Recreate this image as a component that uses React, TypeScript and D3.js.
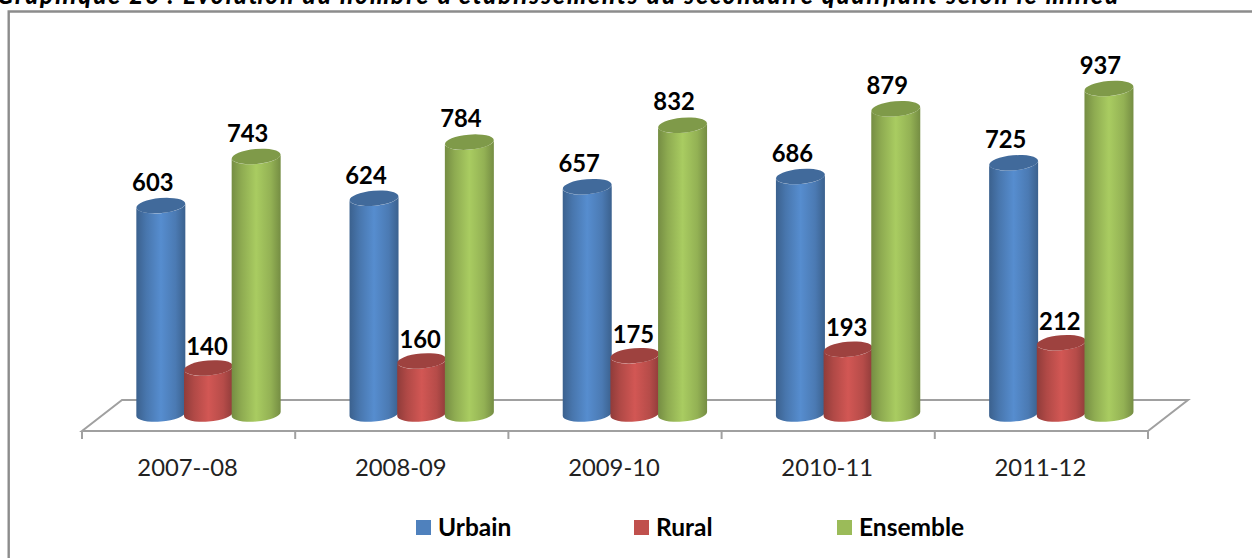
import React from "react";
import * as d3 from "d3";

const categories = ["2007--08", "2008-09", "2009-10", "2010-11", "2011-12"];
const urbain = [603, 624, 657, 686, 725];
const rural = [140, 160, 175, 193, 212];
const ensemble = [743, 784, 832, 879, 937];
const seriesNames = ["Urbain", "Rural", "Ensemble"];
const seriesValues = [urbain, rural, ensemble];
const colors = ["#4F81BD", "#C0504D", "#9BBB59"];
const labelShift = [-8, -1.5, -8.5];
const labelLift = [14.5, 13, 15];
const legendX = [416, 634, 837];
const titleText = "Graphique 26 : Evolution du nombre d'établissements du secondaire qualifiant selon le milieu";

const W = 1252, H = 558;
const x0 = d3.scaleBand<string>().domain(categories).range([82, 1148]);
const x1 = d3.scaleBand<string>().domain(seriesNames).range([55, 55 + 143]);
const y = d3.scaleLinear().domain([0, 937]).range([417, 88.5]);
const font = "Lato, 'Noto Sans', sans-serif";
const rx = 24.5, ry = 7.5, tilt = -5;
const baseY = 414;

function shade(c: string, k: number) {
  return d3.color(c)!.darker(k).formatHex();
}

function cylPath(cx: number, top: number, base: number) {
  return `M${cx - rx},${top + 2} L${cx - rx},${base + 2} A${rx},${ry} ${tilt} 0 0 ${cx + rx},${base - 2} L${cx + rx},${top - 2} A${rx},${ry} ${tilt} 0 1 ${cx - rx},${top + 2} Z`;
}

export default function App() {
  const ticks = d3.range(categories.length + 1).map((i) => 82 + i * x0.step());
  return (
    <svg width={W} height={H} style={{ position: "absolute", left: 0, top: 0, background: "#fff" }}>
      <defs>
        {colors.map((c, i) => (
          <linearGradient key={c} id={`g${i}`} x1="0" x2="1" y1="0" y2="0">
            <stop offset="0" stopColor={shade(c, 0.8)} />
            <stop offset="0.2" stopColor={shade(c, 0.25)} />
            <stop offset="0.5" stopColor={d3.color(c)!.brighter(0.25).formatHex()} />
            <stop offset="0.8" stopColor={shade(c, 0.15)} />
            <stop offset="1" stopColor={shade(c, 0.8)} />
          </linearGradient>
        ))}
      </defs>
      <text x={-3} y={4} textLength={1121} lengthAdjust="spacing" fontFamily="Lato, sans-serif" fontWeight={900} fontStyle="italic" fontSize={24} fill="#000">{titleText}</text>
      <path d={`M8.7,${H} V11.5 H${W}`} fill="none" stroke="#8c8c8c" strokeWidth={2.4} />
      <path d="M82,431 L122,400 H1188 L1148,431 Z" fill="#fff" stroke="#a0a0a0" strokeWidth={2} />
      {ticks.map((t) => <line key={t} x1={t} x2={t} y1={431} y2={439} stroke="#a0a0a0" strokeWidth={2} />)}
      {categories.map((cat, ci) => (
        <g key={cat}>
          <text x={x0(cat)! + x0.step() / 2 - 1} y={476} textAnchor="middle" fontFamily={font} fontSize={23.8} fill="#222">{cat}</text>
          {seriesNames.map((name, si) => {
            const v = seriesValues[si][ci];
            const cx = x0(cat)! + x1(name)! + x1.bandwidth() / 2;
            const top = y(v);
            return (
              <g key={name}>
                <path d={cylPath(cx, top, baseY)} fill={`url(#g${si})`} />
                <ellipse cx={cx} cy={top} rx={rx} ry={ry} transform={`rotate(${tilt} ${cx} ${top})`} fill={shade(colors[si], 0.55)} />
                <text x={cx + labelShift[si]} y={top - labelLift[si]} textAnchor="middle" fontFamily={font} fontWeight={700} fontSize={23.8} fill="#000">{v}</text>
              </g>
            );
          })}
        </g>
      ))}
      {seriesNames.map((name, i) => (
        <g key={name}>
          <rect x={legendX[i]} y={520} width={15} height={15} fill={colors[i]} />
          <text x={legendX[i] + 22} y={536} fontFamily={font} fontWeight={700} fontSize={24.5} fill="#000">{name}</text>
        </g>
      ))}
    </svg>
  );
}
